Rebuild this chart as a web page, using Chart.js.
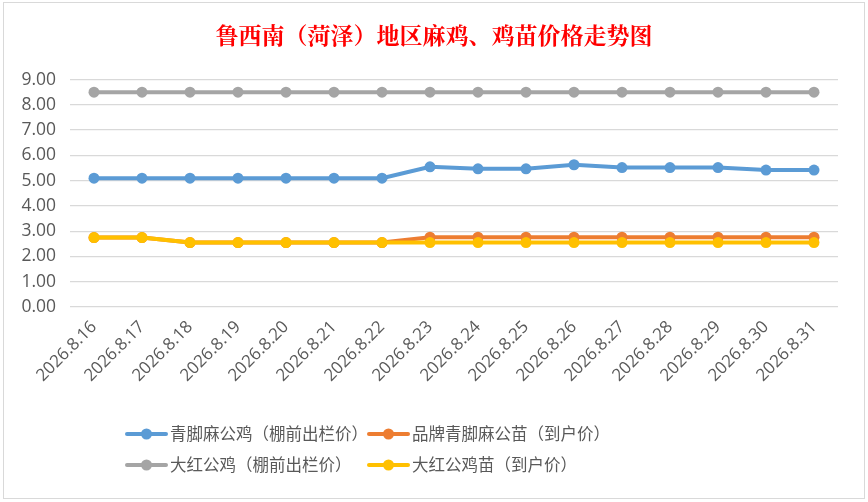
<!DOCTYPE html>
<html>
<head>
<meta charset="utf-8">
<script src="https://cdn.jsdelivr.net/npm/chart.js@4/dist/chart.umd.min.js"></script>
<style>
  body { margin: 0; background: #fff; }
  #wrap { width: 868px; height: 502px; }
</style>
</head>
<body>
<div id="wrap"><canvas id="chart1"></canvas></div>
<script>
// ---- data ----
const dates = ['2026.8.16','2026.8.17','2026.8.18','2026.8.19','2026.8.20','2026.8.21','2026.8.22','2026.8.23',
               '2026.8.24','2026.8.25','2026.8.26','2026.8.27','2026.8.28','2026.8.29','2026.8.30','2026.8.31'];
const qingjiaoRooster = [5.1,5.1,5.1,5.1,5.1,5.1,5.1,5.55,5.47,5.47,5.63,5.52,5.52,5.52,5.42,5.42];
const brandChick      = [2.75,2.75,2.55,2.55,2.55,2.55,2.55,2.76,2.76,2.76,2.76,2.76,2.76,2.76,2.76,2.76];
const redRooster      = [8.5,8.5,8.5,8.5,8.5,8.5,8.5,8.5,8.5,8.5,8.5,8.5,8.5,8.5,8.5,8.5];
const redChick        = [2.75,2.75,2.55,2.55,2.55,2.55,2.55,2.55,2.55,2.55,2.55,2.55,2.55,2.55,2.55,2.55];
const seriesNames = ['青脚麻公鸡（棚前出栏价）','品牌青脚麻公苗（到户价）','大红公鸡（棚前出栏价）','大红公鸡苗（到户价）'];
const yTicks = [0,1,2,3,4,5,6,7,8,9];

const colors = ['#5B9BD5','#ED7D31','#A5A5A5','#FFC000'];
const allData = [qingjiaoRooster, brandChick, redRooster, redChick];

let dataSets = [];
for (let i = 0; i < allData.length; i++) {
  dataSets.push({
    label: seriesNames[i],
    data: allData[i],
    borderColor: colors[i],
    backgroundColor: colors[i],
    borderWidth: 4,
    pointRadius: 5.5,
    pointBorderWidth: 0,
    tension: 0
  });
}
// draw order like the reference: yellow on top of orange
dataSets[0].order = 2; dataSets[1].order = 3; dataSets[2].order = 1; dataSets[3].order = 0;

// frame round the whole chart
const framePlugin = {
  id: 'frame',
  beforeDraw(chart) {
    const c = chart.ctx;
    c.save();
    c.fillStyle = '#fff';
    c.fillRect(0, 0, chart.width, chart.height);
    c.strokeStyle = '#D9D9D9';
    c.lineWidth = 1;
    c.strokeRect(3.5, 2.5, chart.width - 7, chart.height - 6);
    c.restore();
  }
};

// legend: line with marker, two columns
const legendPlugin = {
  id: 'lineLegend',
  afterDraw(chart) {
    const c = chart.ctx;
    const cols = [127, 369];
    const rows = [434, 465];
    c.save();
    c.font = '16.5px "Noto Sans CJK SC"';
    c.textBaseline = 'middle';
    for (let i = 0; i < seriesNames.length; i++) {
      const x = cols[i % 2], y = rows[Math.floor(i / 2)];
      c.strokeStyle = colors[i];
      c.lineWidth = 4;
      c.lineCap = 'round';
      c.beginPath(); c.moveTo(x, y); c.lineTo(x + 39, y); c.stroke();
      c.fillStyle = colors[i];
      c.beginPath(); c.arc(x + 19.5, y, 5.5, 0, Math.PI * 2); c.fill();
      c.fillStyle = '#595959';
      c.fillText(seriesNames[i], x + 43, y);
    }
    c.restore();
  }
};

const config = {
  type: 'line',
  data: { labels: dates, datasets: dataSets },
  options: {
    responsive: true,
    maintainAspectRatio: false,
    animation: false,
    layout: { padding: 0 },
    plugins: {
      legend: { display: false },
      tooltip: { enabled: false },
      title: {
        display: true,
        text: '鲁西南（菏泽）地区麻鸡、鸡苗价格走势图',
        color: '#FF0000',
        font: { family: '"Noto Serif CJK SC", "Noto Sans CJK SC"', size: 23, weight: 'bold', lineHeight: 1.2 },
        padding: { top: 21, bottom: 31 }
      }
    },
    scales: {
      x: {
        offset: true,
        grid: { display: false },
        border: { display: false },
        ticks: {
          color: '#595959',
          font: { family: '"Open Sans"', size: 17 },
          minRotation: 45,
          maxRotation: 45,
          padding: 2
        },
        afterFit(scale) { scale.height = 195; }
      },
      y: {
        min: 0,
        max: 9,
        afterBuildTicks(scale) { scale.ticks = yTicks.map(v => ({ value: v })); },
        grid: { color: '#D9D9D9', lineWidth: 1.3, drawTicks: false },
        border: { display: false },
        ticks: {
          color: '#595959',
          font: { family: '"Open Sans"', size: 17.5 },
          padding: 14,
          callback: v => Number(v).toFixed(2)
        },
        afterFit(scale) { scale.width = 70; }
      },
      // empty right-hand axis, only keeps the right margin
      yRight: {
        position: 'right',
        min: 0,
        max: 9,
        grid: { display: false },
        border: { display: false },
        ticks: { display: false },
        afterFit(scale) { scale.width = 30; }
      }
    }
  },
  plugins: [framePlugin, legendPlugin]
};

const myChart = new Chart(document.getElementById('chart1'), config);
</script>
</body>
</html>
